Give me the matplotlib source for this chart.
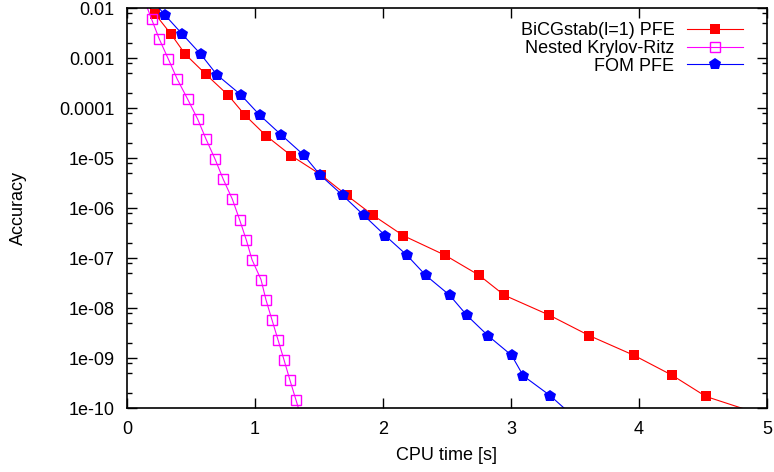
import matplotlib; matplotlib.use('Agg')
import matplotlib.pyplot as plt
import numpy as np
from matplotlib.ticker import LogLocator, FixedLocator, NullLocator, FixedFormatter

plt.rcParams['font.family'] = ['Liberation Sans', 'DejaVu Sans']

# BiCGstab(l=1) PFE
bicg_t = [0.094, 0.219, 0.344, 0.455, 0.617, 0.791, 0.924, 1.086, 1.284, 1.516, 1.716,
          1.924, 2.159, 2.487, 2.752, 2.948, 3.299, 3.612, 3.961, 4.260, 4.523, 4.992]
bicg_acc = [1.9e-2, 7.6e-3, 3.0e-3, 1.19e-3, 4.7e-4, 1.8e-4, 7.1e-5, 2.8e-5, 1.11e-5, 4.6e-6, 1.8e-6,
            7.1e-7, 2.8e-7, 1.13e-7, 4.5e-8, 1.8e-8, 7.2e-9, 2.8e-9, 1.13e-9, 4.5e-10, 1.7e-10, 6.9e-11]

# Nested Krylov-Ritz
nkr_t = [0.133, 0.193, 0.252, 0.323, 0.393, 0.474, 0.552, 0.617, 0.688, 0.752, 0.823,
         0.880, 0.932, 0.977, 1.047, 1.086, 1.133, 1.180, 1.227, 1.273, 1.320, 1.367]
nkr_acc = [1.5e-2, 5.9e-3, 2.4e-3, 9.5e-4, 3.75e-4, 1.5e-4, 6.0e-5, 2.4e-5, 9.5e-6, 3.75e-6, 1.5e-6,
           5.8e-7, 2.3e-7, 9.2e-8, 3.7e-8, 1.45e-8, 5.75e-9, 2.3e-9, 9.1e-10, 3.6e-10, 1.45e-10, 5.75e-11]

# FOM PFE
fom_t = [0.164, 0.293, 0.432, 0.576, 0.703, 0.888, 1.037, 1.205, 1.380, 1.508, 1.684,
         1.849, 2.018, 2.188, 2.334, 2.521, 2.656, 2.820, 3.005, 3.096, 3.307, 3.484]
fom_acc = [1.8e-2, 7.4e-3, 3.0e-3, 1.19e-3, 4.6e-4, 1.85e-4, 7.2e-5, 2.9e-5, 1.15e-5, 4.6e-6, 1.8e-6,
           7.2e-7, 2.8e-7, 1.13e-7, 4.5e-8, 1.8e-8, 7.1e-9, 2.8e-9, 1.13e-9, 4.4e-10, 1.76e-10, 6.9e-11]

y_ticks = [1e-2, 1e-3, 1e-4, 1e-5, 1e-6, 1e-7, 1e-8, 1e-9, 1e-10]
y_labels = ['0.01', '0.001', '0.0001', '1e-05', '1e-06', '1e-07', '1e-08', '1e-09', '1e-10']

fs = 13
fig = plt.figure(figsize=(7.74, 4.72), dpi=100)
ax = fig.add_axes([127/774, 1-408/472, 640/774, 400/472])

ax.plot(bicg_t, bicg_acc, color='#ff0000', lw=0.8, marker='s', ms=7.0, mec='#ff0000', mfc='#ff0000',
        mew=0, label='BiCGstab(l=1) PFE')
ax.plot(nkr_t, nkr_acc, color='#ff00ff', lw=0.8, marker='s', ms=6.6, mec='#ff00ff', mfc='none',
        mew=1.0, label='Nested Krylov-Ritz')
ax.plot(fom_t, fom_acc, color='#0000ff', lw=0.8, marker='p', ms=9.0, mec='#0000ff', mfc='#0000ff',
        mew=0, label='FOM PFE')

ax.set_xlim(0, 5)
ax.set_yscale('log')
ax.set_ylim(1e-10, 1e-2)
ax.set_xticks([0, 1, 2, 3, 4, 5])
ax.xaxis.set_minor_locator(NullLocator())
ax.yaxis.set_major_locator(FixedLocator(y_ticks))
ax.yaxis.set_major_formatter(FixedFormatter(y_labels))
ax.yaxis.set_minor_locator(LogLocator(base=10, subs=[2, 5, 8], numticks=20))
ax.tick_params(which='both', direction='in', top=True, right=True, width=1.0, labelsize=fs)
ax.tick_params(which='major', length=7)
ax.tick_params(which='minor', length=3.6)
ax.tick_params(axis='y', which='both', pad=9)
ax.tick_params(axis='x', which='both', pad=9)
for s in ax.spines.values():
    s.set_linewidth(1.2)

ax.set_xlabel('CPU time [s]', fontsize=fs, labelpad=7)
ax.set_ylabel('Accuracy', fontsize=fs, labelpad=23)

ax.legend(loc='upper right', bbox_to_anchor=(1 - 24/640, 1 - 14/400), frameon=False, markerfirst=False,
          fontsize=fs, handlelength=3.1, handletextpad=0.7, labelspacing=0.05, borderaxespad=0, borderpad=0)

fig.savefig('out.png', dpi=100)
